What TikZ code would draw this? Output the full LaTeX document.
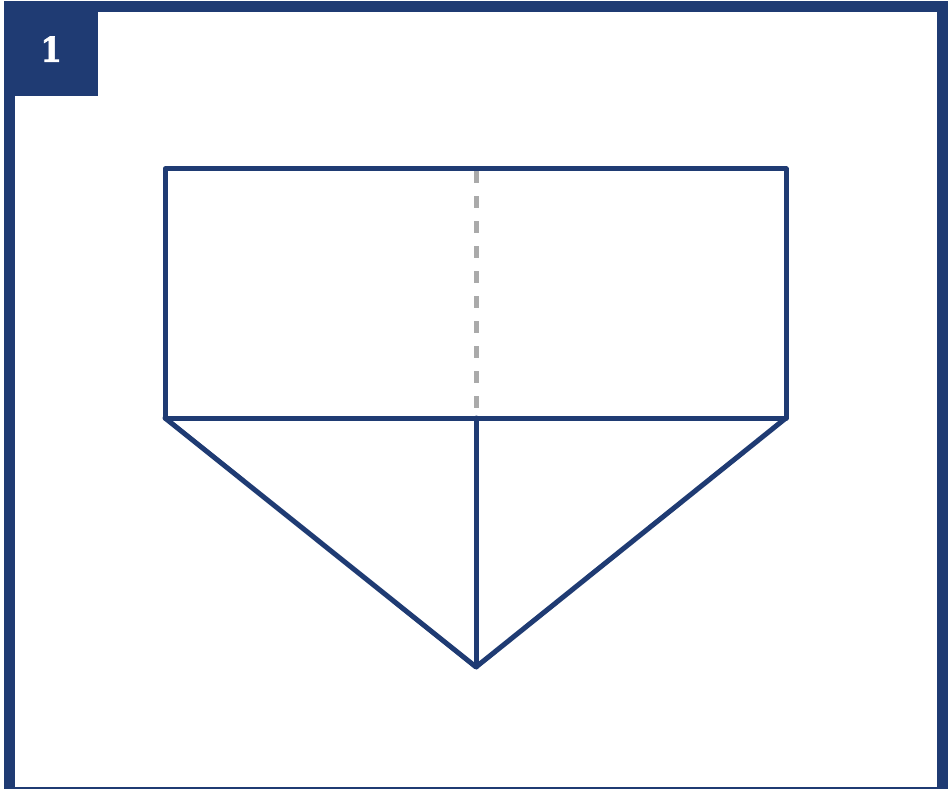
\documentclass[tikz,border=0pt]{standalone}
\usepackage{fontspec}
\newfontfamily\numfont{DejaVu Serif Condensed}[BoldFont={DejaVu Serif Condensed Bold}, BoldFeatures={FakeBold=2}]
\usetikzlibrary{positioning}

\definecolor{navy}{RGB}{31,59,115}
\definecolor{foldgrey}{RGB}{170,170,170}

\begin{document}
\begin{tikzpicture}[
x=1pt, y=-1pt,
frame/.style={draw=navy, line width=11pt},
edge/.style={draw=navy, line width=5pt, line cap=round, line join=round},
fold/.style={draw=foldgrey, line width=5pt, dash pattern=on 12pt off 13pt},
tag/.style={fill=navy, text=white, minimum width=94pt, minimum height=94pt,
  inner sep=0pt, font=\numfont\bfseries\fontsize{34}{34}\selectfont}
]
\useasboundingbox (0,0) rectangle (948,789);
\fill[white] (0,0) rectangle (948,789);

% Frame and step number
\draw[frame] (9.5,7) rectangle (942.5,792);
\node[tag, anchor=north west] (num) at (4,2) {1};

% Corners of the sheet
\coordinate (tl) at (165,169);
\coordinate (tr) at (786,169);
\coordinate (bl) at (165,418);
\coordinate (br) at (786,418);
\coordinate (mt) at (476,171);
\coordinate (mb) at (476,418);
\coordinate (apex) at (476,667);

% Fold line
\draw[fold] (mt) -- (mb);

% Outline
\draw[edge] (bl) -- (tl) -- (tr) -- (br) -- cycle;
\draw[edge] (bl) -- (apex) -- (br);
\draw[edge] (mb) -- (apex);
\end{tikzpicture}
\end{document}
